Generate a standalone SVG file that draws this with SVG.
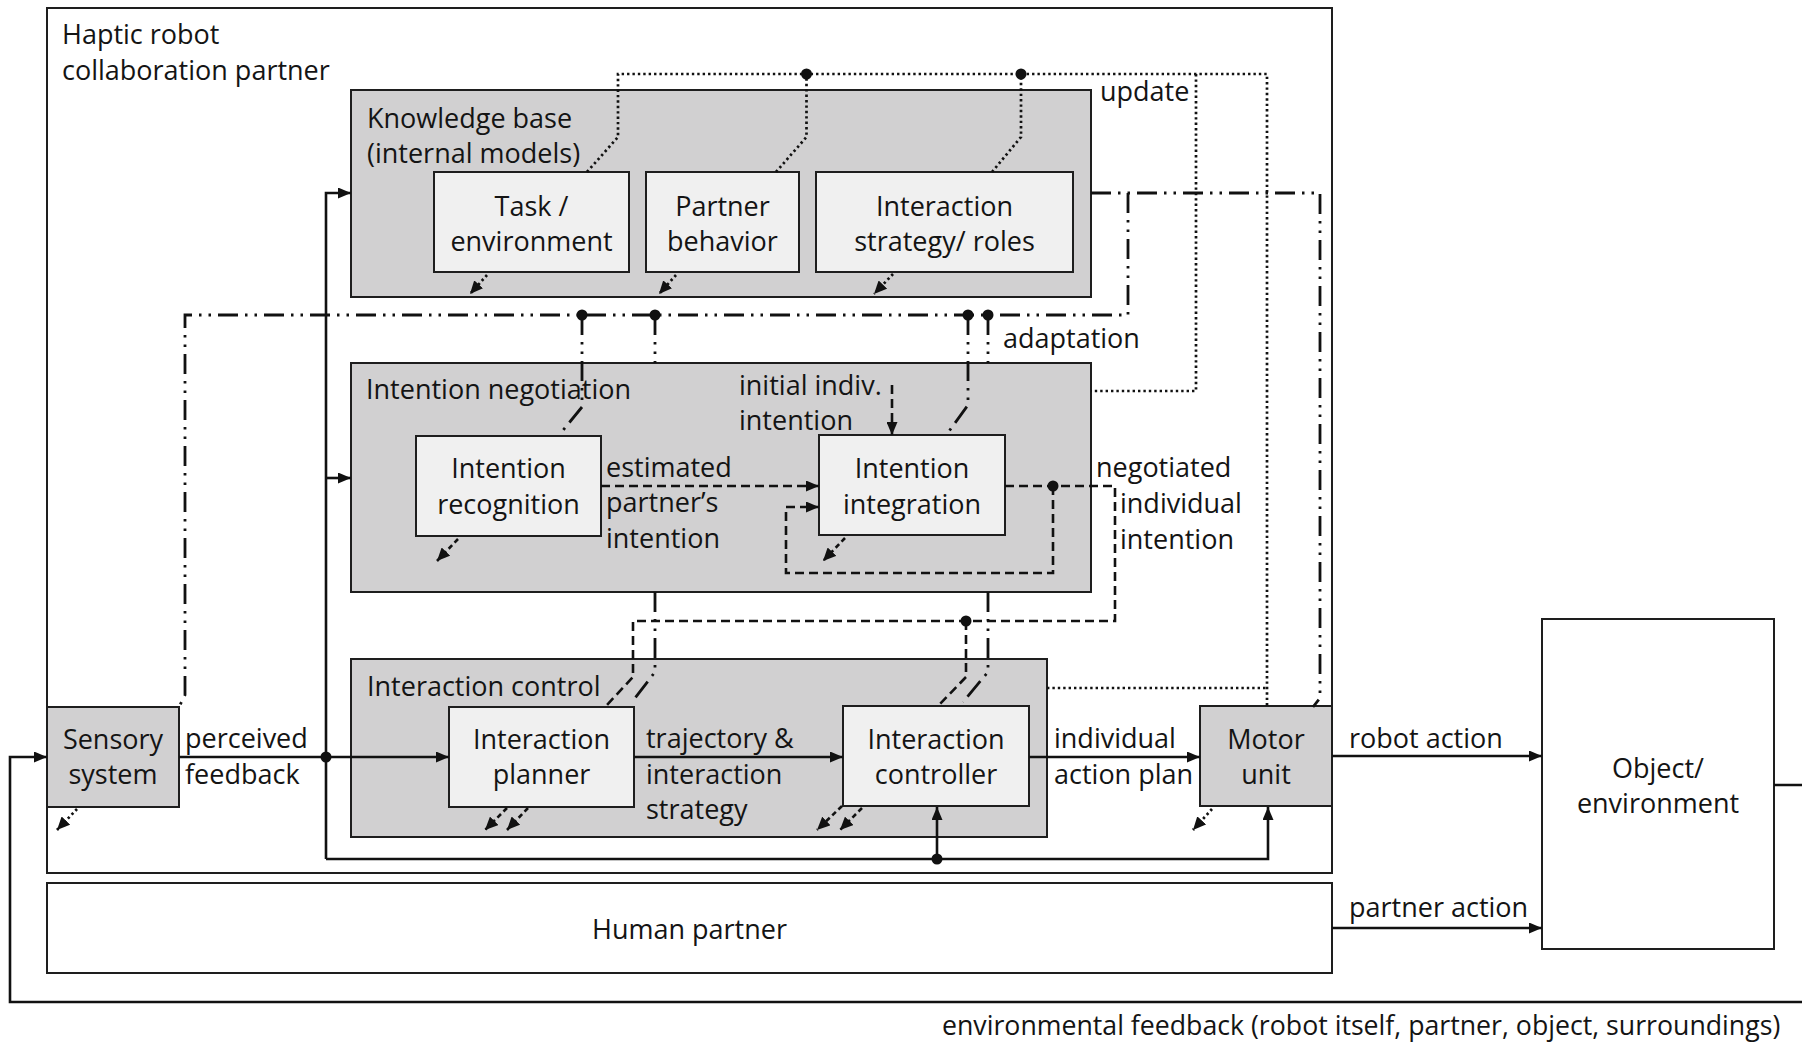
<svg xmlns="http://www.w3.org/2000/svg" width="1802" height="1042" viewBox="0 0 1802 1042">
  <style>
    text { font-family: "Open Sans", "Noto Sans", "Liberation Sans", sans-serif; font-size: 27px; fill: #141414; }
    .c { text-anchor: middle; }
    .frame { fill: #ffffff; stroke: #1e1e1e; stroke-width: 2; }
    .block { fill: #d1d0d1; stroke: #1e1e1e; stroke-width: 2; }
    .unit { fill: #f0f0f0; stroke: #1e1e1e; stroke-width: 2; }
    .ln { fill: none; stroke: #111; stroke-width: 2.6; }
    .dot { stroke-dasharray: 2.4 3; stroke-width: 2.7; }
    .dash { stroke-dasharray: 9 5; }
    .dashdot { stroke-dasharray: 20 7 2.5 7 2.5 7; stroke-width: 2.8; }
    .short { stroke-dasharray: 5 3.5; }
    .node { fill: #111; }
  </style>
  <defs>
    <marker id="arrow" markerUnits="userSpaceOnUse" markerWidth="13" markerHeight="11" refX="13" refY="5.5" orient="auto">
      <path d="M0,0 L13,5.5 L0,11 z" fill="#111"/>
    </marker>
    <marker id="tip" markerUnits="userSpaceOnUse" markerWidth="13" markerHeight="12" refX="13" refY="6" orient="auto">
      <path d="M0,0 L13,6 L0,12 z" fill="#111"/>
    </marker>
  </defs>

  <!-- outer frame: the robot partner -->
  <g id="robot">
    <rect class="frame" x="47" y="8" width="1285" height="865"/>
    <text x="62" y="44">Haptic robot</text>
    <text x="62" y="80">collaboration partner</text>
  </g>

  <g id="human">
    <rect class="frame" x="47" y="883" width="1285" height="90"/>
    <text class="c" x="689.5" y="939">Human partner</text>
  </g>

  <g id="object">
    <rect class="frame" x="1542" y="619" width="232" height="330"/>
    <text class="c" x="1658" y="778">Object/</text>
    <text class="c" x="1658" y="813">environment</text>
  </g>

  <!-- knowledge base with its internal models -->
  <g id="knowledge-base">
    <rect class="block" x="351" y="90" width="740" height="207"/>
    <text x="367" y="128">Knowledge base</text>
    <text x="367" y="163">(internal models)</text>
  </g>
  <g id="task-model">
    <rect class="unit" x="434" y="172" width="195" height="100"/>
    <text class="c" x="531.5" y="216">Task /</text>
    <text class="c" x="531.5" y="251">environment</text>
  </g>
  <g id="partner-model">
    <rect class="unit" x="646" y="172" width="153" height="100"/>
    <text class="c" x="722.5" y="216">Partner</text>
    <text class="c" x="722.5" y="251">behavior</text>
  </g>
  <g id="strategy-model">
    <rect class="unit" x="816" y="172" width="257" height="100"/>
    <text class="c" x="944.5" y="216">Interaction</text>
    <text class="c" x="944.5" y="251">strategy/ roles</text>
  </g>

  <!-- intention negotiation -->
  <g id="intention-negotiation">
    <rect class="block" x="351" y="363" width="740" height="229"/>
    <text x="366" y="399">Intention negotiation</text>
  </g>
  <g id="intention-recognition">
    <rect class="unit" x="416" y="436" width="185" height="100"/>
    <text class="c" x="508.5" y="478">Intention</text>
    <text class="c" x="508.5" y="514">recognition</text>
  </g>
  <g id="intention-integration">
    <rect class="unit" x="819" y="435" width="186" height="100"/>
    <text class="c" x="912" y="478">Intention</text>
    <text class="c" x="912" y="514">integration</text>
  </g>

  <!-- interaction control -->
  <g id="interaction-control">
    <rect class="block" x="351" y="659" width="696" height="178"/>
    <text x="367" y="696">Interaction control</text>
  </g>
  <g id="interaction-planner">
    <rect class="unit" x="449" y="707" width="185" height="100"/>
    <text class="c" x="541.5" y="749">Interaction</text>
    <text class="c" x="541.5" y="784">planner</text>
  </g>
  <g id="interaction-controller">
    <rect class="unit" x="843" y="706" width="186" height="100"/>
    <text class="c" x="936" y="749">Interaction</text>
    <text class="c" x="936" y="784">controller</text>
  </g>

  <g id="sensory-system">
    <rect class="block" x="47" y="707" width="132" height="100"/>
    <text class="c" x="113" y="749">Sensory</text>
    <text class="c" x="113" y="784">system</text>
  </g>
  <g id="motor-unit">
    <rect class="block" x="1200" y="706" width="132" height="100"/>
    <text class="c" x="1266" y="749">Motor</text>
    <text class="c" x="1266" y="784">unit</text>
  </g>

  <g id="connectors">
    <!-- update paths (dotted) -->
    <path class="ln dot" d="M587,172 L618,137 L618,74 L1267,74 L1267,706"/>
    <path class="ln dot" d="M776,172 L806.5,137 L806.5,74"/>
    <path class="ln dot" d="M992,172 L1021,137 L1021,74"/>
    <path class="ln dot" d="M1196,74 L1196,391 L1091,391"/>
    <path class="ln dot" d="M1047,688 L1267,688"/>
    <circle class="node" cx="806.5" cy="74" r="5.5"/>
    <circle class="node" cx="1021" cy="74" r="5.5"/>

    <!-- adaptation paths (dash-dot) -->
    <path class="ln dashdot" d="M1091,193 L1320,193 L1320,698 L1313,707"/>
    <path class="ln dashdot" d="M1128,193 L1128,315 L185,315 L185,695 L179,707"/>
    <path class="ln dashdot" d="M582,315 L582,407 L560,434"/>
    <path class="ln dashdot" d="M655,315 L655,363"/>
    <path class="ln dashdot" d="M655,592 L655,672 L632,702"/>
    <path class="ln dashdot" d="M968,315 L968,405 L947,434"/>
    <path class="ln dashdot" d="M988,315 L988,363"/>
    <path class="ln dashdot" d="M988,592 L988,672 L963,702"/>
    <circle class="node" cx="582" cy="315" r="5.5"/>
    <circle class="node" cx="655" cy="315" r="5.5"/>
    <circle class="node" cx="968" cy="315" r="5.5"/>
    <circle class="node" cx="988" cy="315" r="5.5"/>

    <!-- intention paths (dashed) -->
    <path class="ln dash" d="M601,486 L819,486" marker-end="url(#arrow)"/>
    <path class="ln dash" d="M892,385 L892,435" marker-end="url(#arrow)"/>
    <path class="ln dash" d="M1005,486 L1115,486 L1115,621 L633,621 L633,677 L606,706"/>
    <path class="ln dash" d="M1053,486 L1053,573 L786,573 L786,507 L819,507" marker-end="url(#arrow)"/>
    <path class="ln dash" d="M966,621 L966,677 L938,706"/>
    <circle class="node" cx="1053" cy="486" r="5.5"/>
    <circle class="node" cx="966" cy="621" r="5.5"/>

    <!-- signal flow (solid) -->
    <path class="ln" d="M1774,785 L1812,785 L1812,1002 L10,1002 L10,757 L47,757" marker-end="url(#arrow)"/>
    <path class="ln" d="M179,757 L449,757" marker-end="url(#arrow)"/>
    <path class="ln" d="M326,859 L326,193 L351,193" marker-end="url(#arrow)"/>
    <path class="ln" d="M326,478 L351,478" marker-end="url(#arrow)"/>
    <path class="ln" d="M326,859 L1268,859 L1268,807" marker-end="url(#arrow)"/>
    <path class="ln" d="M937,859 L937,807" marker-end="url(#arrow)"/>
    <path class="ln" d="M634,757 L843,757" marker-end="url(#arrow)"/>
    <path class="ln" d="M1029,757 L1200,757" marker-end="url(#arrow)"/>
    <path class="ln" d="M1332,756 L1542,756" marker-end="url(#arrow)"/>
    <path class="ln" d="M1332,928 L1542,928" marker-end="url(#arrow)"/>
    <circle class="node" cx="326" cy="757" r="5.5"/>
    <circle class="node" cx="937" cy="859" r="5.5"/>

    <!-- short outputs below the blocks -->
    <path class="ln dot" d="M487,275 L470,294" marker-end="url(#tip)"/>
    <path class="ln dot" d="M676,275 L659,294" marker-end="url(#tip)"/>
    <path class="ln dot" d="M893,274 L874,294" marker-end="url(#tip)"/>
    <path class="ln short" d="M458,539 L437,561" marker-end="url(#tip)"/>
    <path class="ln short" d="M845,538 L823,561" marker-end="url(#tip)"/>
    <path class="ln dot" d="M77,809 L57,830" marker-end="url(#tip)"/>
    <path class="ln short" d="M507,808 L485,830" marker-end="url(#tip)"/>
    <path class="ln short" d="M528,808 L507,830" marker-end="url(#tip)"/>
    <path class="ln short" d="M842,806 L817,830" marker-end="url(#tip)"/>
    <path class="ln short" d="M862,808 L840,830" marker-end="url(#tip)"/>
    <path class="ln dot" d="M1212,809 L1193,830" marker-end="url(#tip)"/>
  </g>

  <!-- connector labels -->
  <g id="labels">
    <text x="1100" y="101">update</text>
    <text x="1003" y="348">adaptation</text>
    <text x="739" y="395">initial indiv.</text>
    <text x="739" y="430">intention</text>
    <text x="606" y="477">estimated</text>
    <text x="606" y="512">partner’s</text>
    <text x="606" y="548">intention</text>
    <text x="1096" y="477">negotiated</text>
    <text x="1120" y="513">individual</text>
    <text x="1120" y="549">intention</text>
    <text x="185" y="748">perceived</text>
    <text x="185" y="784">feedback</text>
    <text x="646" y="748">trajectory &amp;</text>
    <text x="646" y="784">interaction</text>
    <text x="646" y="819">strategy</text>
    <text x="1054" y="748">individual</text>
    <text x="1054" y="784">action plan</text>
    <text x="1349" y="748">robot action</text>
    <text x="1349" y="917">partner action</text>
    <text x="942" y="1035" style="font-size:26.7px">environmental feedback (robot itself, partner, object, surroundings)</text>
  </g>
</svg>
